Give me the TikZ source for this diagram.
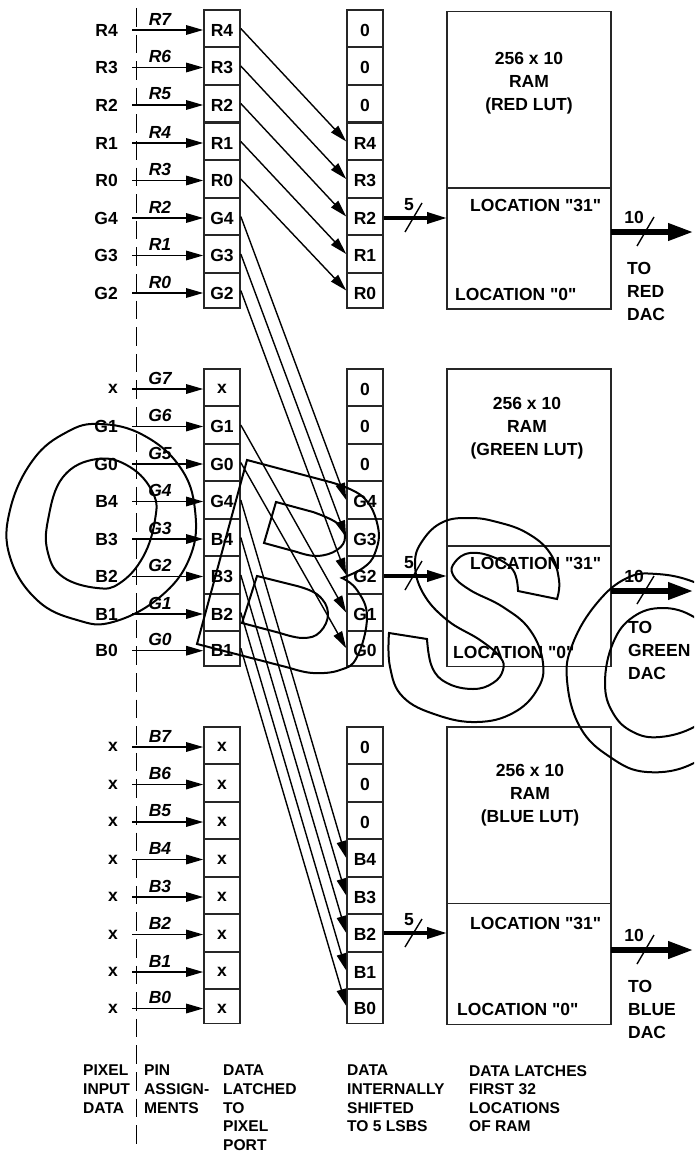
\documentclass[tikz,border=0pt]{standalone}
\usepackage{fontspec}
\setmainfont{Liberation Sans}[Ligatures=TeXOff]
\usetikzlibrary{arrows.meta}
\def\ringouter{plot[smooth cycle, tension=0.7] coordinates {(100,424)(143,435)(180,467)(195,510)(190,557)(160,597)(113,622)(77,620)(37,600)(10,557)(10,510)(33,460)(67,432)}}
\def\ringinner{plot[smooth cycle, tension=0.7] coordinates {(97,459)(130,467)(153,493)(155,520)(143,557)(120,583)(97,588)(63,577)(48,553)(48,520)(63,477)}}
\def\bellyouter{(247,460) -- plot[smooth, tension=0.7] coordinates {(330,482)(363,497)(378,527)(375,553)(363,568)(342,578)} -- plot[smooth, tension=0.7] coordinates {(342,578)(357,590)(367,617)(357,657)(340,670)(313,673)(290,668)} -- (197,644) -- cycle}
\def\bellyupper{(276,502) -- plot[smooth, tension=0.7] coordinates {(313,512)(337,523)(345,537)(337,550)(317,556)(297,552)} -- (264,543) -- cycle}
\def\bellylower{(257,576) -- plot[smooth, tension=0.7] coordinates {(297,586)(318,595)(328,613)(320,632)(303,638)(280,633)} -- (242,623) -- cycle}
\def\snake{(518,591) -- (557,599) -- plot[smooth, tension=0.7] coordinates {(557,599)(559,580)(550,553)(527,533)(497,522)(470,518)(443,522)(423,540)(415,563)(423,593)(447,620)(480,640)(500,657)(503,670)(493,683)(473,689)(447,683)(432,667)(427,639)} -- (389,633) -- plot[smooth, tension=0.7] coordinates {(389,633)(390,667)(403,697)(437,715)(477,722)(513,713)(537,690)(543,663)(530,630)(503,607)(470,590)(453,575)(455,562)(470,553)(493,557)(513,570)(518,591)} -- cycle}
\def\hoopouter{plot[smooth cycle, tension=0.7] coordinates {(694,582)(657,574)(627,578)(597,603)(573,643)(567,680)(580,727)(610,757)(647,772)(694,763)(730,730)(742,660)(725,600)}}
\def\hoopinner{plot[smooth cycle, tension=0.7] coordinates {(694,617)(663,608)(633,617)(613,643)(605,683)(613,713)(633,732)(660,737)(694,727)(714,708)(720,675)(714,638)}}
\def\labelfont{\fontsize{17.5}{23}\selectfont\bfseries}
\def\xmark{\raisebox{1.5pt}{x}}
\colorlet{cell edge}{black!85}
\tikzstyle{cell}=[draw=cell edge, line width=1.6pt, minimum width=36pt, minimum height=37.5pt, inner sep=0pt, text height=15.5pt, text depth=0pt, yshift=1.5, font=\labelfont]
\tikzstyle{shortcell}=[cell, minimum height=35pt, text height=17.5pt, yshift=1]
\tikzstyle{ram}=[draw=cell edge, line width=1.6pt, minimum width=164pt, inner sep=0pt]
\tikzstyle{inlabel}=[anchor=east, inner sep=0pt, font=\labelfont]
\tikzstyle{wirelabel}=[inner sep=0pt, font=\labelfont\itshape]
\tikzstyle{buslabel}=[inner sep=0pt, font=\labelfont]
\tikzstyle{ramtext}=[inner sep=0pt, align=center, font=\labelfont]
\tikzstyle{loc}=[anchor=west, inner sep=0pt, font=\labelfont]
\tikzstyle{dactext}=[anchor=west, inner sep=0pt, align=left, font=\labelfont]
\tikzstyle{caption}=[anchor=north west, inner sep=0pt, align=left, font=\fontsize{15.6}{18.6}\selectfont\bfseries]
\tikzstyle{wire}=[draw, line width=1.4pt, -{Triangle[length=17pt,width=9.5pt]}]
\tikzstyle{edge}=[draw, line width=1.4pt, -{Triangle[length=17pt,width=9.5pt]}]
\tikzstyle{thinbus}=[draw, line width=3.6pt, -{Triangle[length=20pt,width=11pt]}]
\tikzstyle{fatbus}=[draw, line width=6.4pt, -{Triangle[length=26pt,width=16pt]}]
\tikzstyle{slash}=[draw, line width=1.4pt]
\tikzstyle{letter}=[draw, line width=2pt, line join=miter]
% one input line: name, y, outside label, pin label, latched label, cell style
\def\pinrow#1#2#3#4#5#6{
  \node[inlabel] (#1in) at (118,#2) {#3};
  \node[wirelabel] (#1name) at (160,#2-11) {#4};
  \node[#6] (#1cell) at (222,#2) {#5};
  \coordinate (#1start) at (132,#2);
  \path[wire] (#1start) -- (#1start -| #1cell.west);
}
\begin{document}
\begin{tikzpicture}[x=1pt,y=-1pt]
  \useasboundingbox (0,0) rectangle (694,1153);
  \clip (0,0) rectangle (694,1153);

  \coordinate (divtop) at (136,8);
  \coordinate (divbot) at (136,1144);
  \draw[line width=1pt, dash pattern=on 18.6pt off 8pt] (divtop) -- (divbot);

  \pinrow{r7}{30}{R4}{R7}{R4}{cell}
  \pinrow{r6}{67.5}{R3}{R6}{R3}{cell}
  \pinrow{r5}{105}{R2}{R5}{R2}{cell}
  \pinrow{r4}{143}{R1}{R4}{R1}{cell}
  \pinrow{r3}{180.5}{R0}{R3}{R0}{cell}
  \pinrow{r2}{218}{G4}{R2}{G4}{cell}
  \pinrow{r1}{255.5}{G3}{R1}{G3}{cell}
  \pinrow{r0}{293}{G2}{R0}{G2}{shortcell}

  \pinrow{g7}{389}{x}{G7}{\xmark}{cell}
  \pinrow{g6}{426.5}{G1}{G6}{G1}{cell}
  \pinrow{g5}{464}{G0}{G5}{G0}{cell}
  \pinrow{g4}{501.5}{B4}{G4}{G4}{cell}
  \pinrow{g3}{539}{B3}{G3}{B4}{cell}
  \pinrow{g2}{576.5}{B2}{G2}{B3}{cell}
  \pinrow{g1}{614}{B1}{G1}{B2}{cell}
  \pinrow{g0}{650.7}{B0}{G0}{B1}{shortcell}

  \pinrow{b7}{747}{x}{B7}{\xmark}{cell}
  \pinrow{b6}{784.5}{x}{B6}{\xmark}{cell}
  \pinrow{b5}{822}{x}{B5}{\xmark}{cell}
  \pinrow{b4}{859.5}{x}{B4}{\xmark}{cell}
  \pinrow{b3}{897}{x}{B3}{\xmark}{cell}
  \pinrow{b2}{934.5}{x}{B2}{\xmark}{cell}
  \pinrow{b1}{972}{x}{B1}{\xmark}{cell}
  \pinrow{b0}{1008.5}{x}{B0}{\xmark}{shortcell}

  \node[cell] (rz2) at (365,30) {0};
  \node[cell] (rz1) at (365,67.5) {0};
  \node[cell] (rz0) at (365,105) {0};
  \node[cell] (rout4) at (365,143) {R4};
  \node[cell] (rout3) at (365,180.5) {R3};
  \node[cell] (rout2) at (365,218) {R2};
  \node[cell] (rout1) at (365,255.5) {R1};
  \node[shortcell] (rout0) at (365,293) {R0};

  \node[cell] (gz2) at (365,389) {0};
  \node[cell] (gz1) at (365,426.5) {0};
  \node[cell] (gz0) at (365,464) {0};
  \node[cell] (gout4) at (365,501.5) {G4};
  \node[cell] (gout3) at (365,539) {G3};
  \node[cell] (gout2) at (365,576.5) {G2};
  \node[cell] (gout1) at (365,614) {G1};
  \node[shortcell] (gout0) at (365,650.7) {G0};

  \node[cell] (bz2) at (365,747) {0};
  \node[cell] (bz1) at (365,784.5) {0};
  \node[cell] (bz0) at (365,822) {0};
  \node[cell] (bout4) at (365,859.5) {B4};
  \node[cell] (bout3) at (365,897) {B3};
  \node[cell] (bout2) at (365,934.5) {B2};
  \node[cell] (bout1) at (365,972) {B1};
  \node[shortcell] (bout0) at (365,1008.5) {B0};

  \path[edge] (r7cell.east) -- (rout4.west);
  \path[edge] (r6cell.east) -- (rout3.west);
  \path[edge] (r5cell.east) -- (rout2.west);
  \path[edge] (r4cell.east) -- (rout1.west);
  \path[edge] (r3cell.east) -- (rout0.west);
  \path[edge] (r2cell.east) -- (gout4.west);
  \path[edge] (r1cell.east) -- (gout3.west);
  \path[edge] (r0cell.east) -- (gout2.west);
  \path[edge] (g6cell.east) -- (gout1.west);
  \path[edge] (g5cell.east) -- (gout0.west);
  \path[edge] (g4cell.east) -- (bout4.west);
  \path[edge] (g3cell.east) -- (bout3.west);
  \path[edge] (g2cell.east) -- (bout2.west);
  \path[edge] (g1cell.east) -- (bout1.west);
  \path[edge] (g0cell.east) -- (bout0.west);

  % red lookup table
  \node[ram, minimum height=176.6pt] (redlut) at (529,100) {};
  \node[ram, minimum height=120.7pt] (redloc) at (529,248.6) {};
  \node[ramtext] (redtext) at (529,83.5) {256 x 10\\RAM\\(RED LUT)};
  \node[loc] (redhigh) at (470,205) {LOCATION "31"};
  \node[loc] (redlow) at (455,294) {LOCATION "0"};
  \node[dactext] (reddac) at (627,291) {TO\\RED\\DAC};
  \coordinate (redin) at (447,218);
  \coordinate (redout) at (611,232);
  \coordinate (redend) at (694,232);
  \path[thinbus] (rout2.east |- redin) -- (redin);
  \path[fatbus] (redout) -- (redend);
  \coordinate (redslashA) at (405,232);
  \coordinate (redslashB) at (422,203);
  \coordinate (redslashC) at (637,246);
  \coordinate (redslashD) at (654,217);
  \path[slash] (redslashA) -- (redslashB);
  \path[slash] (redslashC) -- (redslashD);
  \node[buslabel] (redfive) at (409,205) {5};
  \node[buslabel] (redten) at (634,217) {10};

  % green lookup table
  \node[ram, minimum height=176.6pt] (greenlut) at (529,457.5) {};
  \node[ram, minimum height=120.7pt] (greenloc) at (529,606.1) {};
  \node[ramtext] (greentext) at (527,428) {256 x 10\\RAM\\(GREEN LUT)};
  \node[loc] (greenhigh) at (470,563) {LOCATION "31"};
  \node[loc] (greenlow) at (453,652) {LOCATION "0"};
  \node[dactext] (greendac) at (628,650) {TO\\GREEN\\DAC};
  \coordinate (greenin) at (447,576);
  \coordinate (greenout) at (611,591);
  \coordinate (greenend) at (694,591);
  \path[thinbus] (gout2.east |- greenin) -- (greenin);
  \path[fatbus] (greenout) -- (greenend);
  \coordinate (greenslashA) at (405,590);
  \coordinate (greenslashB) at (422,561);
  \coordinate (greenslashC) at (637,604);
  \coordinate (greenslashD) at (654,576);
  \path[slash] (greenslashA) -- (greenslashB);
  \path[slash] (greenslashC) -- (greenslashD);
  \node[buslabel] (greenfive) at (409,563) {5};
  \node[buslabel] (greenten) at (634,576) {10};

  % blue lookup table
  \node[ram, minimum height=176.6pt] (bluelut) at (529,815.3) {};
  \node[ram, minimum height=120.7pt] (blueloc) at (529,964) {};
  \node[ramtext] (bluetext) at (530,795) {256 x 10\\RAM\\(BLUE LUT)};
  \node[loc] (bluehigh) at (470,923) {LOCATION "31"};
  \node[loc] (bluelow) at (457,1009) {LOCATION "0"};
  \node[dactext] (bluedac) at (628,1009) {TO\\BLUE\\DAC};
  \coordinate (bluein) at (447,933);
  \coordinate (blueout) at (611,950);
  \coordinate (blueend) at (694,950);
  \path[thinbus] (bout2.east |- bluein) -- (bluein);
  \path[fatbus] (blueout) -- (blueend);
  \coordinate (blueslashA) at (405,947);
  \coordinate (blueslashB) at (422,919);
  \coordinate (blueslashC) at (637,964);
  \coordinate (blueslashD) at (654,935);
  \path[slash] (blueslashA) -- (blueslashB);
  \path[slash] (blueslashC) -- (blueslashD);
  \node[buslabel] (bluefive) at (409,920) {5};
  \node[buslabel] (blueten) at (634,935) {10};

  \node[caption] (capinput) at (83,1065) {PIXEL\\INPUT\\DATA};
  \node[caption] (cappin) at (144,1065) {PIN\\ASSIGN-\\MENTS};
  \node[caption] (caplatch) at (223,1065) {DATA\\LATCHED\\TO\\PIXEL\\PORT};
  \node[caption] (capshift) at (347,1065) {DATA\\INTERNALLY\\SHIFTED\\TO 5 LSBS};
  \node[caption] (capram) at (469,1065) {DATA LATCHES\\FIRST 32\\LOCATIONS\\OF RAM};

  % drawn last, it runs across everything
  \draw[letter] \ringouter;
  \draw[letter] \ringinner;
  \draw[letter] \bellyouter;
  \draw[letter] \bellyupper;
  \draw[letter] \bellylower;
  \draw[letter] \snake;
  \draw[letter] \hoopouter;
  \draw[letter] \hoopinner;
\end{tikzpicture}
\end{document}
